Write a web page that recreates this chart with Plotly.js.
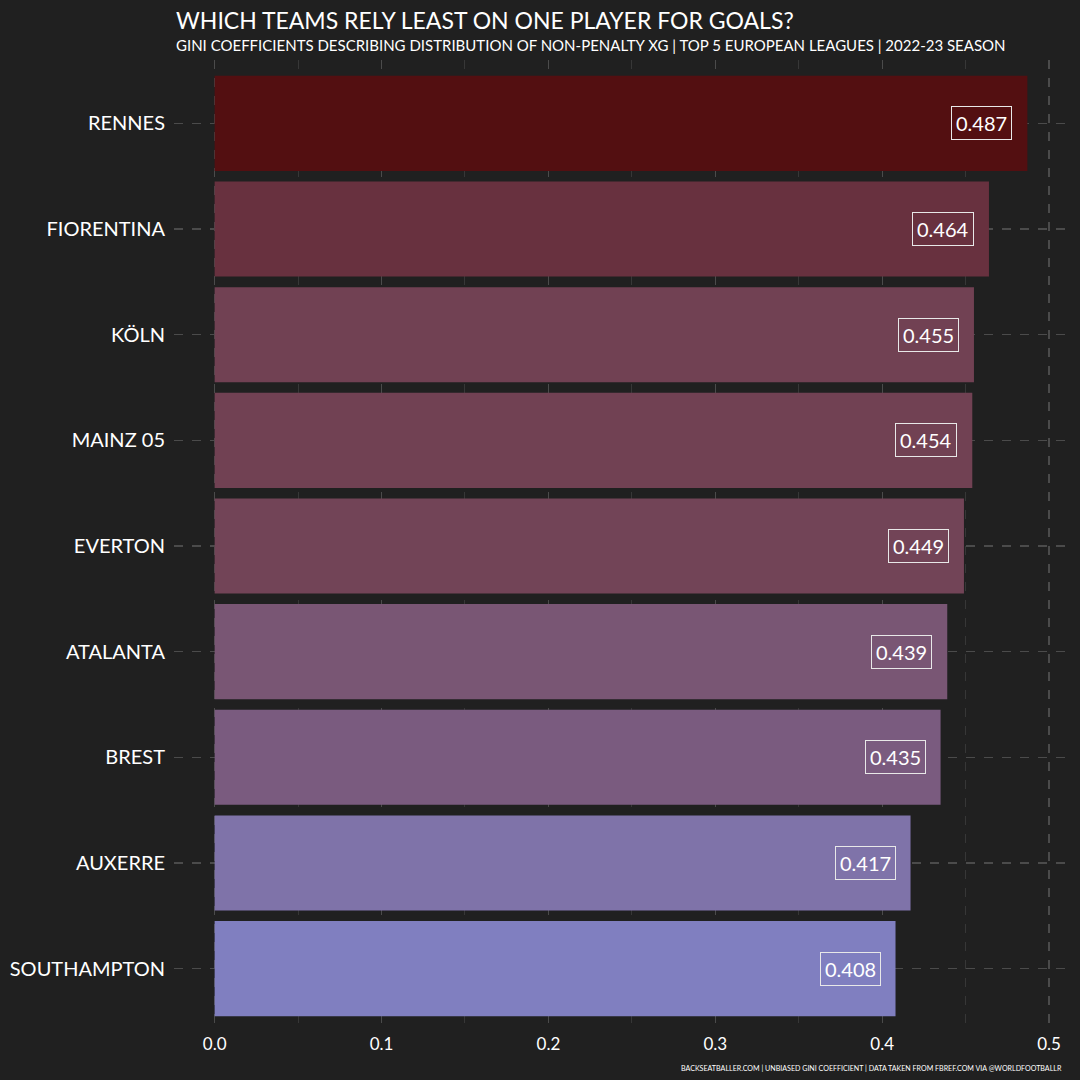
<!DOCTYPE html>
<html>
<head>
<meta charset="utf-8">
<script src="https://cdn.plot.ly/plotly-3.0.1.min.js"></script>
<style>
html,body{margin:0;padding:0;background:#202020;}
#chart{width:1080px;height:1080px;}
</style>
</head>
<body>
<div id="chart"></div>
<script>
const teams = ["RENNES","FIORENTINA","KÖLN","MAINZ 05","EVERTON","ATALANTA","BREST","AUXERRE","SOUTHAMPTON"];
const gini = [0.487,0.464,0.455,0.454,0.449,0.439,0.435,0.417,0.408];
const barColors = ["#530f11","#68313f","#714153","#714153","#724457","#795674","#7a5b7f","#7f73a9","#807fc0"];
const xTicks = [0,0.1,0.2,0.3,0.4,0.5];
const xTickLabels = ["0.0","0.1","0.2","0.3","0.4","0.5"];

const FONT = "Lato, 'Noto Sans', sans-serif";
const gridCol = "#4b4b4b";
const plotH = 1080 - 60 - 48;

const trace = {
  type: "bar",
  orientation: "h",
  x: gini,
  y: teams,
  width: 0.9,
  marker: {color: barColors, line: {width: 0}},
  hoverinfo: "none"
};

const annotations = teams.map((t, i) => ({
  x: gini[i], y: t, xref: "x", yref: "y",
  text: gini[i].toFixed(3),
  showarrow: false,
  xanchor: "right", yanchor: "middle",
  xshift: -15,
  font: {family: FONT, size: 20, color: "#ffffff"},
  bordercolor: "#e8e8e8", borderwidth: 1, borderpad: 4,
  bgcolor: "rgba(0,0,0,0)"
}));

annotations.push({
  xref: "paper", yref: "paper", x: 0, y: 1 + 40 / plotH,
  xanchor: "left", yanchor: "middle", showarrow: false,
  text: "WHICH TEAMS RELY LEAST ON ONE PLAYER FOR GOALS?",
  font: {family: FONT, size: 23, color: "#ffffff"}
});
annotations.push({
  xref: "paper", yref: "paper", x: 0, y: 1 + 15 / plotH,
  xanchor: "left", yanchor: "middle", showarrow: false,
  text: "GINI COEFFICIENTS DESCRIBING DISTRIBUTION OF NON-PENALTY XG | TOP 5 EUROPEAN LEAGUES | 2022-23 SEASON",
  font: {family: FONT, size: 15, color: "#ffffff"}
});
annotations.push({
  xref: "paper", yref: "paper", x: 1, y: -36 / plotH, xshift: -4,
  xanchor: "right", yanchor: "middle", showarrow: false,
  text: "BACKSEATBALLER.COM | UNBIASED GINI COEFFICIENT | DATA TAKEN FROM FBREF.COM VIA @WORLDFOOTBALLR",
  font: {family: FONT, size: 7.1, color: "#ffffff"}
});

const layout = {
  width: 1080, height: 1080,
  paper_bgcolor: "#202020",
  plot_bgcolor: "#202020",
  margin: {l: 174, r: 12, t: 60, b: 48},
  showlegend: false,
  bargap: 0.1,
  xaxis: {
    range: [-0.02435, 0.51135],
    tickvals: xTicks, ticktext: xTickLabels,
    showgrid: true, gridcolor: gridCol, gridwidth: 1.2, griddash: "dash",
    minor: {dtick: 0.05, tick0: 0, showgrid: true, gridcolor: "#3d3d3d", gridwidth: 0.8, griddash: "dash"},
    zeroline: false, showline: false, ticks: "",
    tickfont: {family: FONT, size: 17, color: "#ffffff"},
    fixedrange: true
  },
  yaxis: {
    type: "category",
    categoryorder: "array", categoryarray: teams,
    autorange: false, range: [8.6, -0.6],
    showgrid: true, gridcolor: gridCol, gridwidth: 1.2, griddash: "dash",
    zeroline: false, showline: false, ticks: "",
    ticklabelstandoff: 8,
    tickfont: {family: FONT, size: 20, color: "#ffffff"},
    fixedrange: true
  },
  annotations: annotations
};

Plotly.newPlot("chart", [trace], layout, {displayModeBar: false, staticPlot: true});
</script>
</body>
</html>
